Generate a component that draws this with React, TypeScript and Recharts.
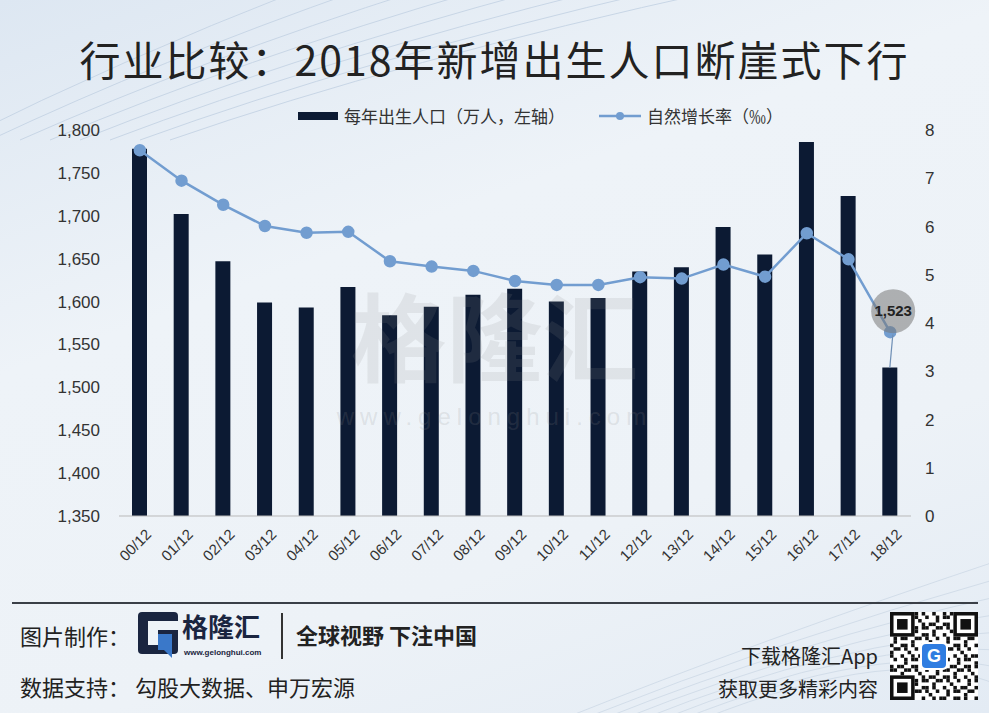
import React from 'react';
import {
  ComposedChart,
  Bar,
  Line,
  XAxis,
  YAxis,
} from 'recharts';

// 年份标签、出生人口（万人）、自然增长率（‰）
const years = ['00/12', '01/12', '02/12', '03/12', '04/12', '05/12', '06/12', '07/12', '08/12', '09/12', '10/12', '11/12', '12/12', '13/12', '14/12', '15/12', '16/12', '17/12', '18/12'];
const births = [1778, 1702, 1647, 1599, 1593, 1617, 1584, 1594, 1608, 1615, 1600, 1604, 1635, 1640, 1687, 1655, 1786, 1723, 1523];
const growthRate = [7.58, 6.95, 6.45, 6.01, 5.87, 5.89, 5.28, 5.17, 5.08, 4.87, 4.79, 4.79, 4.95, 4.92, 5.21, 4.96, 5.86, 5.32, 3.81];
const leftTicks = [1350, 1400, 1450, 1500, 1550, 1600, 1650, 1700, 1750, 1800];
const rightTicks = [0, 1, 2, 3, 4, 5, 6, 7, 8];

const data = years.map((y, i) => ({ year: y, births: births[i], rate: growthRate[i] }));

const FONT = "Arial, 'Liberation Sans', 'Noto Sans CJK SC', sans-serif";
const CJK = "'Noto Sans CJK SC', 'Noto Sans', sans-serif";
const BAR_COLOR = '#0c1a33';
const LINE_COLOR = '#729dd0';
const lastIdx = years.length - 1;

const XTick = (props: any) => {
  const { x, y, payload } = props;
  return (
    <g transform={`translate(${x + 5},${y + 4})`}>
      <text
        transform="rotate(-45)"
        textAnchor="end"
        dy="0.7em"
        fontSize={15}
        fill="#333"
        fontFamily={FONT}
      >
        {payload.value}
      </text>
    </g>
  );
};

const ChartLegend = () => (
  <div style={{ position: 'absolute', left: 298, top: 104, display: 'flex', fontFamily: CJK, fontSize: 17, color: '#333', lineHeight: '24px' }}>
    <div style={{ display: 'flex', alignItems: 'center', marginRight: 34 }}>
      <span style={{ display: 'inline-block', width: 40, height: 8, background: BAR_COLOR, marginRight: 6 }} />
      <span>每年出生人口（万人，左轴）</span>
    </div>
    <div style={{ display: 'flex', alignItems: 'center' }}>
      <svg width={42} height={12} style={{ marginRight: 6 }}>
        <line x1={0} y1={6} x2={42} y2={6} stroke={LINE_COLOR} strokeWidth={2.5} />
        <circle cx={21} cy={6} r={4} fill={LINE_COLOR} />
      </svg>
      <span>自然增长率（‰）</span>
    </div>
  </div>
);

const lineLabel = (props: any) => {
  const { x, y, index } = props;
  if (index !== lastIdx) return null;
  return (
    <g>
      <circle cx={x + 3} cy={y - 21} r={22} fill="rgba(120,120,120,0.55)" />
      <text x={x + 3} y={y - 21} dy="0.35em" textAnchor="middle" fontSize={15} fontWeight="bold" fill="#222" fontFamily={FONT}>
        {births[lastIdx].toLocaleString('en-US')}
      </text>
    </g>
  );
};

const barLabel = (props: any) => {
  const { x, y, width, index } = props;
  if (index !== lastIdx) return null;
  const cx = x + width / 2;
  return <line x1={cx} y1={y} x2={cx + 3} y2={y - 33} stroke="#6f8fb5" strokeWidth={1.2} />;
};

const GLogo = () => (
  <svg width={42} height={46} viewBox="0 0 42 46">
    <rect x={0} y={0} width={40} height={42} rx={4} fill="#1a2540" />
    <rect x={10} y={9} width={30} height={9} fill="#eef3f8" />
    <rect x={10} y={18} width={10} height={15} fill="#eef3f8" />
    <path d="M20 22 L34 22 L34 46 L26 38 L20 38 Z" fill="#3a78c9" />
  </svg>
);

const QRCode = () => {
  const n = 25;
  const cell = 88 / n;
  const cells: React.ReactNode[] = [];
  const finder = (r: number, c: number) =>
    (r < 7 && c < 7) || (r < 7 && c >= n - 7) || (r >= n - 7 && c < 7);
  for (let r = 0; r < n; r++) {
    for (let c = 0; c < n; c++) {
      if (finder(r, c)) continue;
      if ((r * 7 + c * 13 + r * c) % 3 === 0 || (r + c * 3) % 5 === 1) {
        cells.push(<rect key={`${r}-${c}`} x={c * cell} y={r * cell} width={cell} height={cell} fill="#111" />);
      }
    }
  }
  const fp = (x: number, y: number) => (
    <g key={`f${x}${y}`}>
      <rect x={x} y={y} width={cell * 7} height={cell * 7} fill="#111" />
      <rect x={x + cell} y={y + cell} width={cell * 5} height={cell * 5} fill="#fff" />
      <rect x={x + cell * 2} y={y + cell * 2} width={cell * 3} height={cell * 3} fill="#111" />
    </g>
  );
  return (
    <svg width={88} height={88}>
      <rect width={88} height={88} fill="#fff" />
      {cells}
      {fp(0, 0)}
      {fp(88 - cell * 7, 0)}
      {fp(0, 88 - cell * 7)}
      <rect x={30} y={30} width={28} height={28} rx={5} fill="#fff" />
      <rect x={32} y={32} width={24} height={24} rx={4} fill="#2f7de1" />
      <text x={44} y={44} dy="0.36em" textAnchor="middle" fontSize={18} fontWeight="bold" fill="#fff" fontFamily={FONT}>G</text>
    </svg>
  );
};

export default function App() {
  return (
    <div
      style={{
        position: 'absolute',
        left: 0,
        top: 0,
        width: 989,
        height: 713,
        overflow: 'hidden',
        background: 'linear-gradient(160deg, #dde7f2 0%, #eef3f8 35%, #edf2f7 70%, #e3ebf4 100%)',
        fontFamily: CJK,
      }}
    >
      <svg width={989} height={713} style={{ position: 'absolute', left: 0, top: 0 }}>
        {[0, 1, 2, 3, 4, 5, 6, 7].map((i) => (
          <path key={`a${i}`} d={`M${-40 + i * 30} 140 Q ${120 + i * 40} 60 ${300 + i * 60} ${-10}`} stroke="#c8d6e6" strokeWidth={1} fill="none" />
        ))}
        {[0, 1, 2, 3, 4, 5, 6, 7].map((i) => (
          <path key={`b${i}`} d={`M${560 + i * 20} 720 Q ${760 + i * 20} 640 ${1000} ${560 + i * 18}`} stroke="#d2dde9" strokeWidth={1} fill="none" />
        ))}
      </svg>

      <div
        style={{
          position: 'absolute',
          left: 0,
          top: 30,
          width: 989,
          textAlign: 'center',
          fontSize: 41,
          color: '#222',
          fontFamily: "'Noto Sans CJK SC', serif",
          letterSpacing: 2,
          lineHeight: '56px',
        }}
      >
        行业比较：2018年新增出生人口断崖式下行
      </div>

      <ChartLegend />

      <div style={{ position: 'absolute', left: 0, top: 0 }}>
        <ComposedChart
          width={989}
          height={600}
          data={data}
          margin={{ top: 130, right: 18, bottom: 24, left: 0 }}
        >
          <XAxis
            dataKey="year"
            tick={<XTick />}
            tickLine={false}
            axisLine={{ stroke: '#b9b9b9', strokeWidth: 1 }}
            height={60}
            interval={0}
          />
          <YAxis
            yAxisId="left"
            domain={[1350, 1800]}
            ticks={leftTicks}
            tickFormatter={(v: number) => v.toLocaleString('en-US')}
            axisLine={false}
            tickLine={false}
            tickMargin={13}
            width={119}
            tick={{ fontSize: 17, fill: '#333', fontFamily: FONT }}
          />
          <YAxis
            yAxisId="right"
            orientation="right"
            domain={[0, 8]}
            ticks={rightTicks}
            axisLine={false}
            tickLine={false}
            tickMargin={8}
            width={60}
            tick={{ fontSize: 17, fill: '#333', fontFamily: FONT }}
          />
          <Bar yAxisId="left" dataKey="births" fill={BAR_COLOR} barSize={15} isAnimationActive={false} label={barLabel} />
          <Line
            yAxisId="right"
            dataKey="rate"
            stroke={LINE_COLOR}
            strokeWidth={2.5}
            dot={{ r: 5, fill: LINE_COLOR, stroke: LINE_COLOR }}
            isAnimationActive={false}
            label={lineLabel}
          />
        </ComposedChart>
      </div>

      <div style={{ position: 'absolute', left: 0, top: 278, width: 989, textAlign: 'center', fontSize: 96, lineHeight: '110px', fontWeight: 'bold', color: 'rgba(140,140,140,0.15)', pointerEvents: 'none' }}>
        格隆汇
      </div>
      <div style={{ position: 'absolute', left: 0, top: 404, width: 989, textAlign: 'center', fontSize: 24, lineHeight: '26px', letterSpacing: 6, fontFamily: FONT, color: 'rgba(140,140,140,0.18)', pointerEvents: 'none' }}>
        www.gelonghui.com
      </div>

      {/* footer */}
      <div style={{ position: 'absolute', left: 12, top: 602, width: 966, height: 2, background: '#3a3f47' }} />
      <div style={{ position: 'absolute', left: 20, top: 619, fontSize: 22, color: '#222' }}>图片制作：</div>
      <div style={{ position: 'absolute', left: 138, top: 612 }}>
        <GLogo />
      </div>
      <div style={{ position: 'absolute', left: 182, top: 613, fontSize: 26, fontWeight: 'bold', color: '#1a2540', lineHeight: '26px' }}>格隆汇</div>
      <div style={{ position: 'absolute', left: 184, top: 648, fontSize: 8, lineHeight: '10px', fontWeight: 'bold', color: '#1a2540', fontFamily: FONT }}>www.gelonghui.com</div>
      <div style={{ position: 'absolute', left: 281, top: 613, width: 1.5, height: 46, background: '#333' }} />
      <div style={{ position: 'absolute', left: 296, top: 618, fontSize: 22, fontWeight: 'bold', color: '#222' }}>全球视野 下注中国</div>
      <div style={{ position: 'absolute', left: 20, top: 670, fontSize: 22, color: '#222' }}>数据支持：&nbsp;勾股大数据、申万宏源</div>

      <div style={{ position: 'absolute', right: 111, top: 641, fontSize: 20, color: '#222', textAlign: 'right' }}>下载格隆汇App</div>
      <div style={{ position: 'absolute', right: 111, top: 674, fontSize: 20, color: '#222', textAlign: 'right' }}>获取更多精彩内容</div>
      <div style={{ position: 'absolute', left: 890, top: 612 }}>
        <QRCode />
      </div>
    </div>
  );
}
